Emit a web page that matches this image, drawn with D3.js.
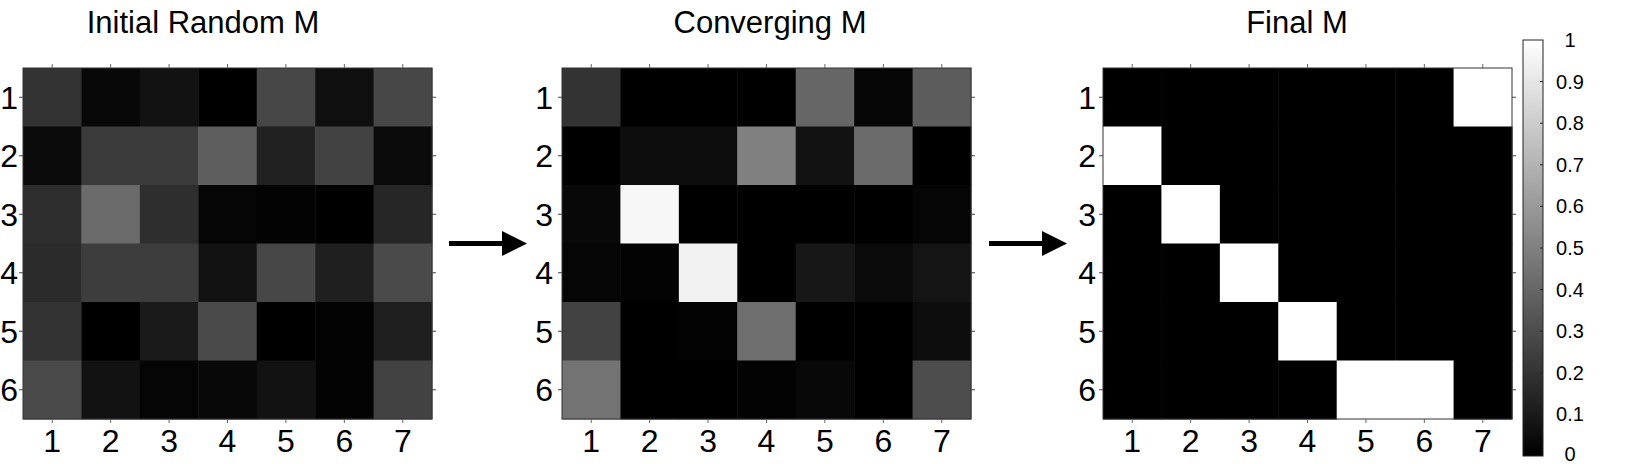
<!DOCTYPE html>
<html>
<head>
<meta charset="utf-8">
<script src="https://cdn.jsdelivr.net/npm/d3@7"></script>
<style>
  html, body { margin: 0; padding: 0; background: #fff; }
  svg { display: block; }
  text { font-family: "Liberation Sans", Arial, sans-serif; fill: #000; }
</style>
</head>
<body>
<svg id="chart" width="1638" height="464"></svg>
<script>
// ---- data ----
const columns = [1, 2, 3, 4, 5, 6, 7];
const rows = [1, 2, 3, 4, 5, 6];
const titles = ["Initial Random M", "Converging M", "Final M"];

const initialM = [
  [0.20, 0.03, 0.07, 0.00, 0.28, 0.06, 0.28],
  [0.04, 0.23, 0.23, 0.37, 0.13, 0.26, 0.04],
  [0.18, 0.42, 0.18, 0.02, 0.01, 0.00, 0.15],
  [0.17, 0.24, 0.24, 0.07, 0.28, 0.12, 0.29],
  [0.20, 0.00, 0.10, 0.29, 0.00, 0.01, 0.12],
  [0.29, 0.07, 0.02, 0.03, 0.07, 0.01, 0.26]
];
const convergingM = [
  [0.20, 0.00, 0.00, 0.00, 0.40, 0.02, 0.36],
  [0.00, 0.05, 0.05, 0.50, 0.07, 0.42, 0.00],
  [0.03, 0.97, 0.00, 0.00, 0.00, 0.00, 0.02],
  [0.02, 0.01, 0.95, 0.00, 0.09, 0.04, 0.08],
  [0.26, 0.00, 0.01, 0.43, 0.00, 0.00, 0.05],
  [0.45, 0.00, 0.00, 0.01, 0.03, 0.00, 0.30]
];
const finalM = [
  [0, 0, 0, 0, 0, 0, 1],
  [1, 0, 0, 0, 0, 0, 0],
  [0, 1, 0, 0, 0, 0, 0],
  [0, 0, 1, 0, 0, 0, 0],
  [0, 0, 0, 1, 0, 0, 0],
  [0, 0, 0, 0, 1, 1, 0]
];
const colorbarTicks = [0, 0.1, 0.2, 0.3, 0.4, 0.5, 0.6, 0.7, 0.8, 0.9, 1];

// ---- layout ----
const matrices = [initialM, convergingM, finalM];
const panelLeft = [23, 562, 1103];
const panelW = 409;
const plotTop = 68, plotBottom = 419;
const titleX = [203, 770, 1297];
const labelGap = [5, 9, 7];
const tickFont = 32, titleFont = 31, cbFont = 20;

const svg = d3.select("#chart");
const color = d3.scaleLinear().domain([0, 1]).range(["#000000", "#ffffff"]);
const y = d3.scaleBand().domain(rows).range([plotTop, plotBottom]).padding(0);

matrices.forEach((M, p) => {
  const x = d3.scaleBand().domain(columns).range([panelLeft[p], panelLeft[p] + panelW]).padding(0);
  const g = svg.append("g");
  const cells = [];
  M.forEach((row, i) => row.forEach((v, j) => cells.push({ r: rows[i], c: columns[j], v })));
  g.selectAll("rect.cell").data(cells).join("rect")
    .attr("class", "cell")
    .attr("x", d => x(d.c))
    .attr("y", d => y(d.r))
    .attr("width", x.bandwidth() + 0.5)
    .attr("height", y.bandwidth() + 0.5)
    .attr("fill", d => color(d.v));

  // frame
  g.append("rect")
    .attr("x", panelLeft[p]).attr("y", plotTop)
    .attr("width", panelW).attr("height", plotBottom - plotTop)
    .attr("fill", "none").attr("stroke", "#333").attr("stroke-width", 1);

  // ticks
  const tk = 4;
  g.selectAll("line.tt").data(columns).join("line")
    .attr("x1", d => x(d) + x.bandwidth() / 2).attr("x2", d => x(d) + x.bandwidth() / 2)
    .attr("y1", plotTop).attr("y2", plotTop - tk).attr("stroke", "#666");
  g.selectAll("line.bt").data(columns).join("line")
    .attr("x1", d => x(d) + x.bandwidth() / 2).attr("x2", d => x(d) + x.bandwidth() / 2)
    .attr("y1", plotBottom).attr("y2", plotBottom + tk).attr("stroke", "#666");
  g.selectAll("line.lt").data(rows).join("line")
    .attr("y1", d => y(d) + y.bandwidth() / 2).attr("y2", d => y(d) + y.bandwidth() / 2)
    .attr("x1", panelLeft[p]).attr("x2", panelLeft[p] - tk).attr("stroke", "#444");
  g.selectAll("line.rt").data(rows).join("line")
    .attr("y1", d => y(d) + y.bandwidth() / 2).attr("y2", d => y(d) + y.bandwidth() / 2)
    .attr("x1", panelLeft[p] + panelW).attr("x2", panelLeft[p] + panelW + tk).attr("stroke", "#444");

  // tick labels
  g.selectAll("text.xl").data(columns).join("text")
    .attr("x", d => x(d) + x.bandwidth() / 2)
    .attr("y", 452)
    .attr("text-anchor", "middle")
    .attr("font-size", tickFont)
    .text(d => d);
  g.selectAll("text.yl").data(rows).join("text")
    .attr("x", panelLeft[p] - labelGap[p])
    .attr("y", d => y(d) + y.bandwidth() / 2)
    .attr("dy", "0.36em")
    .attr("text-anchor", "end")
    .attr("font-size", tickFont)
    .text(d => d);

  // title
  svg.append("text")
    .attr("x", titleX[p]).attr("y", 33)
    .attr("text-anchor", "middle")
    .attr("font-size", titleFont)
    .text(titles[p]);
});

// arrows
[[449, 527], [989, 1067]].forEach(([x0, x1]) => {
  const cy = 243.5, headLen = 25, headHalf = 12.5;
  svg.append("line")
    .attr("x1", x0).attr("x2", x1 - headLen + 1)
    .attr("y1", cy).attr("y2", cy)
    .attr("stroke", "#000").attr("stroke-width", 5);
  svg.append("path")
    .attr("d", `M${x1 - headLen},${cy - headHalf} L${x1},${cy} L${x1 - headLen},${cy + headHalf} Z`)
    .attr("fill", "#000");
});

// colorbar
const cbX = 1523, cbW = 20, cbTop = 40, cbBottom = 456;
const cbScale = d3.scaleLinear().domain([0, 1]).range([cbBottom, cbTop]);
const defs = svg.append("defs");
const grad = defs.append("linearGradient").attr("id", "cbgrad")
  .attr("x1", 0).attr("y1", 1).attr("x2", 0).attr("y2", 0);
colorbarTicks.forEach(t => grad.append("stop").attr("offset", t).attr("stop-color", color(t)));
svg.append("rect")
  .attr("x", cbX).attr("y", cbScale(1))
  .attr("width", cbW).attr("height", cbScale(0) - cbScale(1))
  .attr("fill", "url(#cbgrad)")
  .attr("stroke", "#222").attr("stroke-width", 1);
svg.selectAll("line.cbt").data(colorbarTicks.slice(1, -1)).join("line")
  .attr("x1", cbX + cbW).attr("x2", cbX + cbW - 3)
  .attr("y1", d => cbScale(d)).attr("y2", d => cbScale(d))
  .attr("stroke", "#222");
svg.selectAll("text.cbl").data(colorbarTicks).join("text")
  .attr("x", 1570)
  .attr("y", d => Math.min(cbScale(d), cbBottom - 2))
  .attr("dy", "0.35em")
  .attr("text-anchor", "middle")
  .attr("font-size", cbFont)
  .text(d => d3.format("")(d));
</script>
</body>
</html>
